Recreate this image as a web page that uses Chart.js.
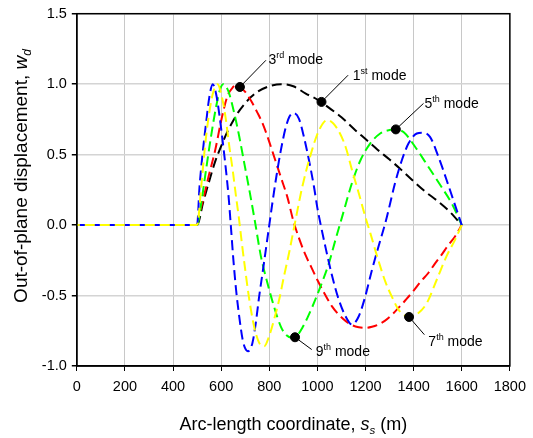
<!DOCTYPE html>
<html><head><meta charset="utf-8">
<script src="https://cdn.jsdelivr.net/npm/chart.js@4.4.1/dist/chart.umd.min.js"></script>
<style>html,body{margin:0;padding:0;background:#fff}#wrap{width:533px;height:438px;position:relative}</style>
</head><body><div id="wrap"><canvas id="c" width="533" height="438"></canvas></div>
<script>
const xTicks = [0,200,400,600,800,1000,1200,1400,1600,1800];
const yTicks = [-1.0,-0.5,0.0,0.5,1.0,1.5];

const mode1 = [[0,0],[500,0],[525,0.16],[550,0.31],[575,0.45],[600,0.56],[625,0.66],[650,0.74],[675,0.81],[700,0.865],[725,0.91],[750,0.945],[800,0.985],[850,1.0],[900,0.985],[950,0.935],[1000,0.89],[1050,0.83],[1100,0.765],[1150,0.685],[1200,0.61],[1250,0.535],[1300,0.465],[1350,0.39],[1400,0.31],[1450,0.235],[1500,0.17],[1550,0.095],[1600,0]];
const mode3 = [[0,0],[500,0],[510,0.08],[525,0.18],[550,0.36],[575,0.53],[600,0.74],[625,0.91],[650,0.98],[662,0.995],[675,0.985],[700,0.945],[725,0.88],[750,0.8],[775,0.71],[800,0.59],[825,0.46],[850,0.33],[875,0.2],[900,0.03],[925,-0.1],[950,-0.21],[975,-0.3],[1000,-0.39],[1034,-0.5],[1060,-0.575],[1089,-0.636],[1117,-0.68],[1144,-0.71],[1172,-0.725],[1200,-0.73],[1227,-0.722],[1254,-0.706],[1280,-0.68],[1310,-0.636],[1337,-0.588],[1365,-0.535],[1392,-0.482],[1430,-0.4],[1461,-0.34],[1490,-0.27],[1516,-0.211],[1545,-0.14],[1572,-0.081],[1600,0]];
const mode5 = [[0,0],[500,0],[517,0.155],[537,0.39],[558,0.63],[579,0.84],[595,0.96],[608,1.0],[620,0.985],[634,0.93],[655,0.79],[675,0.63],[696,0.44],[717,0.25],[740,0.03],[765,-0.22],[792,-0.41],[820,-0.58],[848,-0.72],[870,-0.78],[895,-0.8],[915,-0.785],[937,-0.73],[958,-0.66],[979,-0.58],[1013,-0.435],[1048,-0.27],[1075,-0.105],[1103,0.06],[1144,0.3],[1179,0.46],[1220,0.58],[1261,0.65],[1300,0.675],[1326,0.68],[1358,0.66],[1406,0.556],[1461,0.414],[1516,0.27],[1558,0.155],[1600,0]];
const mode7 = [[0,0],[500,0],[517,0.27],[530,0.51],[544,0.72],[565,0.93],[585,1.0],[606,0.886],[620,0.745],[634,0.556],[648,0.39],[662,0.2],[673,0.06],[686,-0.128],[700,-0.317],[717,-0.53],[737,-0.72],[758,-0.836],[779,-0.86],[799,-0.79],[820,-0.67],[841,-0.53],[861,-0.364],[882,-0.2],[905,0.0],[937,0.27],[972,0.5],[1006,0.67],[1041,0.745],[1082,0.686],[1117,0.556],[1144,0.39],[1172,0.226],[1199,0.06],[1220,-0.057],[1248,-0.22],[1282,-0.4],[1310,-0.51],[1337,-0.6],[1358,-0.636],[1381,-0.652],[1420,-0.624],[1455,-0.553],[1496,-0.388],[1537,-0.22],[1572,-0.105],[1600,0]];
const mode9 = [[0,0],[500,0],[510,0.27],[523,0.51],[537,0.72],[551,0.91],[565,1.0],[579,0.93],[592,0.79],[606,0.6],[620,0.39],[631,0.2],[640,0.0],[651,-0.25],[662,-0.459],[675,-0.647],[689,-0.81],[700,-0.875],[712,-0.895],[730,-0.836],[744,-0.694],[758,-0.506],[772,-0.34],[786,-0.17],[800,0.0],[814,0.17],[830,0.35],[848,0.53],[868,0.69],[884,0.77],[900,0.795],[923,0.756],[944,0.626],[965,0.46],[986,0.27],[1000,0.12],[1014,0.0],[1034,-0.16],[1061,-0.36],[1089,-0.53],[1117,-0.647],[1144,-0.706],[1172,-0.647],[1199,-0.506],[1227,-0.317],[1254,-0.152],[1282,0.013],[1296,0.108],[1323,0.3],[1351,0.46],[1379,0.58],[1413,0.65],[1434,0.655],[1468,0.626],[1503,0.485],[1537,0.32],[1565,0.178],[1600,0]];

const markers = [[678,0.98],[1017,0.874],[1326,0.679],[1381,-0.652],[907,-0.796]];
const markerNum = ['3','1','5','7','9'];
const markerSup = ['rd','st','th','th','th'];

const FONT = "'Liberation Sans', Arial, sans-serif";
const toXY = a => a.map(p => ({x:p[0], y:p[1]}));

// label placement relative to marker pixel: [leaderDx, leaderDy, textDx, textDy]
const labelOffsets = [[26,-26.7,28.5,-23.4],[26.6,-26.7,31.3,-22.4],[27.7,-26,28.7,-21],[15.3,17.7,19.3,28.7],[16.7,12.3,20.7,18.3]];

function drawRich(ctx, segs, x, y, align) {
  let w = 0;
  segs.forEach(s => { ctx.font = s.f; w += ctx.measureText(s.t).width; });
  let cx = align === 'center' ? x - w/2 : x;
  segs.forEach(s => { ctx.font = s.f; ctx.fillText(s.t, cx, y + (s.dy||0)); cx += ctx.measureText(s.t).width; });
}

const overlay = {
  id: 'overlay',
  afterDraw(chart) {
    const {ctx, chartArea:a, scales:{x, y}} = chart;
    ctx.save();
    ctx.strokeStyle = '#000'; ctx.lineWidth = 1.5;
    ctx.strokeRect(a.left, a.top, a.right - a.left, a.bottom - a.top);
    ctx.fillStyle = '#000'; ctx.textBaseline = 'alphabetic'; ctx.textAlign = 'left';
    markers.forEach((m, i) => {
      const px = x.getPixelForValue(m[0]), py = y.getPixelForValue(m[1]);
      const o = labelOffsets[i];
      ctx.beginPath(); ctx.lineWidth = 1; ctx.moveTo(px, py); ctx.lineTo(px + o[0], py + o[1]); ctx.stroke();
      drawRich(ctx, [
        {t: markerNum[i], f: '14px ' + FONT},
        {t: markerSup[i], f: '9px ' + FONT, dy: -6},
        {t: ' mode', f: '14px ' + FONT}
      ], px + o[2], py + o[3], 'left');
    });
    // x title
    drawRich(ctx, [
      {t: 'Arc-length coordinate, ', f: '18px ' + FONT},
      {t: 's', f: 'italic 18px ' + FONT},
      {t: 's', f: 'italic 11.5px ' + FONT, dy: 4},
      {t: ' (m)', f: '18px ' + FONT}
    ], (a.left + a.right)/2, 430, 'center');
    // y title
    ctx.save();
    ctx.translate(27, 176);
    ctx.rotate(-Math.PI/2);
    drawRich(ctx, [
      {t: 'Out-of-plane displacement, ', f: '19px ' + FONT},
      {t: 'w', f: 'italic 19px ' + FONT},
      {t: 'd', f: 'italic 12px ' + FONT, dy: 4}
    ], 0, 0, 'center');
    ctx.restore();
    ctx.restore();
  }
};

const dash = [10, 5];
const lineDs = (data, color, off) => ({
  data: toXY(data), borderColor: color, borderWidth: 2, borderDash: dash, borderDashOffset: off || 0,
  pointRadius: 0, fill: false, cubicInterpolationMode: 'monotone'
});

new Chart(document.getElementById('c'), {
  type: 'line',
  data: {
    datasets: [
      {data: toXY(markers), showLine: false, pointRadius: 4.5, pointBackgroundColor: '#000', pointBorderColor: '#000', borderColor: '#000'},
      lineDs(mode7, '#ffff00', 7),
      lineDs(mode9, '#0000ff'),
      lineDs(mode5, '#00ff00'),
      lineDs(mode3, '#ff0000'),
      lineDs(mode1, '#000000')
    ]
  },
  options: {
    responsive: false, animation: false, devicePixelRatio: 1,
    layout: {padding: {left: 0, right: 21, top: 13, bottom: 0}},
    plugins: {legend: {display: false}, tooltip: {enabled: false}},
    scales: {
      x: {
        type: 'linear', min: 0, max: 1800,
        afterBuildTicks: s => { s.ticks = xTicks.map(v => ({value: v})); },
        afterFit: s => { s.height = 72; },
        ticks: {font: {family: FONT, size: 14.5}, color: '#000', padding: 7, maxRotation: 0, callback: v => String(v)},
        grid: {color: '#c8c8c8', lineWidth: 1, tickLength: 5, tickColor: '#000', drawTicks: true},
        border: {display: true, color: '#000', width: 1.5}
      },
      y: {
        type: 'linear', min: -1, max: 1.5,
        afterBuildTicks: s => { s.ticks = yTicks.map(v => ({value: v})); },
        afterFit: s => { s.width = 76.8; },
        ticks: {font: {family: FONT, size: 14.5}, color: '#000', padding: 5, callback: v => Number(v).toFixed(1)},
        grid: {color: '#d4d4d4', lineWidth: 1.5, tickLength: 5, tickColor: '#000', drawTicks: true},
        border: {display: true, color: '#000', width: 1.5}
      }
    }
  },
  plugins: [overlay]
});
</script></body></html>
